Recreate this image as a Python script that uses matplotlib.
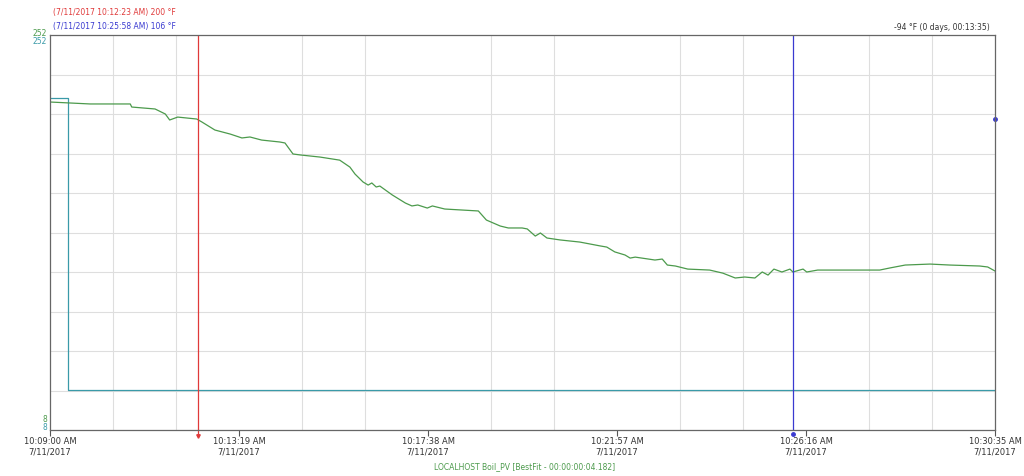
import numpy as np
import matplotlib
matplotlib.use("Agg")
import matplotlib.pyplot as plt

# seconds after 10:09:00 AM and temperature (°F)
pv_t = [0, 55, 110, 112, 144, 158, 164, 175, 201, 208, 226, 247, 263, 274, 290,
        315, 322, 333, 343, 370, 397, 411, 418, 429, 436, 441, 447, 452, 469,
        487, 496, 504, 517, 524, 541, 587, 598, 617, 628, 647, 654, 665, 672,
        681, 699, 726, 754, 763, 774, 788, 795, 802, 829, 839, 846, 857, 874,
        904, 922, 939, 952, 966, 976, 984, 992, 1003, 1014, 1018, 1032, 1037,
        1052, 1089, 1121, 1137, 1151, 1172, 1206, 1233, 1274, 1285, 1295]
pv_v = [210.6, 209.4, 209.4, 207.5, 206.3, 203.2, 199.5, 201.3, 200.1, 198.3,
        193.3, 190.8, 188.4, 189.0, 187.1, 185.9, 185.3, 178.5, 177.9, 176.6,
        174.7, 170.4, 166.1, 161.2, 159.3, 160.6, 158.1, 158.7, 153.2, 148.2,
        146.4, 147.0, 145.1, 146.4, 144.5, 143.3, 137.7, 134.0, 132.8, 132.8,
        132.2, 127.8, 129.7, 126.6, 125.4, 124.1, 121.7, 121.0, 118.0, 116.1,
        114.2, 114.8, 113.0, 113.6, 109.9, 109.3, 107.4, 106.8, 104.9, 101.9,
        102.5, 101.9, 105.6, 103.7, 107.4, 105.6, 107.4, 105.6, 107.4, 105.6,
        106.8, 106.8, 106.8, 106.8, 108.1, 109.9, 110.5, 109.9, 109.3, 108.7,
        106.2]

sp_t = [0, 25, 25, 1295]
sp_v = [213, 213, 33, 33]

tick_t = [0, 259, 518, 777, 1036, 1295]
tick_labels = ["10:09:00 AM\n7/11/2017", "10:13:19 AM\n7/11/2017",
               "10:17:38 AM\n7/11/2017", "10:21:57 AM\n7/11/2017",
               "10:26:16 AM\n7/11/2017", "10:30:35 AM\n7/11/2017"]

cursor1_t, cursor1_v = 203, 200
cursor2_t, cursor2_v = 1018, 106
y_min, y_max = 8, 252

green = "#4c9a4c"
teal = "#3a9aa8"
red = "#e03a3a"
blue = "#3a3ad0"

fig = plt.figure(figsize=(10.24, 4.76), dpi=100)
ax = fig.add_axes([50 / 1024, 1 - 430 / 476, 945 / 1024, 395 / 476])

ax.set_xlim(0, 1295)
ax.set_ylim(y_min, y_max)

ax.set_xticks(np.linspace(0, 1295, 16), minor=True)
ax.set_yticks(np.linspace(y_min, y_max, 11))
ax.grid(True, which="minor", axis="x", color="#dedede", lw=0.8)
ax.grid(True, which="major", axis="y", color="#dedede", lw=0.8)
ax.set_xticks(tick_t)
ax.set_xticklabels(tick_labels, fontsize=6, color="#333333")
ax.tick_params(axis="x", which="major", length=4, width=0.8, color="#555555", pad=1)
ax.tick_params(axis="x", which="minor", length=0)
ax.tick_params(axis="y", length=0, labelleft=False)
for s in ax.spines.values():
    s.set_color("#666666")
    s.set_linewidth(0.9)

ax.plot(sp_t, sp_v, color=teal, lw=0.9)
ax.plot(pv_t, pv_v, color=green, lw=0.9)

ax.axvline(cursor1_t, color=red, lw=0.9)
ax.axvline(cursor2_t, color=blue, lw=0.9)
ax.plot([cursor1_t, cursor1_t], [y_min, y_min - 4], color=red, lw=0.9, clip_on=False)
ax.plot([cursor1_t], [y_min - 4], marker="v", ms=2.5, color=red, clip_on=False)
ax.plot([cursor2_t], [y_min - 2.5], marker="o", ms=2.5, color=blue, clip_on=False)
ax.plot([1295], [cursor1_v], marker="o", ms=2.5, color=blue, clip_on=False)

fig.text(53 / 1024, 1 - 12 / 476, "(7/11/2017 10:12:23 AM) 200 °F",
         color=red, fontsize=5.5, va="center")
fig.text(53 / 1024, 1 - 26 / 476, "(7/11/2017 10:25:58 AM) 106 °F",
         color=blue, fontsize=5.5, va="center")
fig.text(990 / 1024, 1 - 27 / 476, "-94 °F (0 days, 00:13:35)",
         color="#333333", fontsize=5.5, va="center", ha="right")

fig.text(47 / 1024, 1 - 34 / 476, "252", color=green, fontsize=5.5,
         ha="right", va="center")
fig.text(47 / 1024, 1 - 42 / 476, "252", color=teal, fontsize=5.5,
         ha="right", va="center")
fig.text(47 / 1024, 1 - 419 / 476, "8", color=green, fontsize=5.5,
         ha="right", va="center")
fig.text(47 / 1024, 1 - 427 / 476, "8", color=teal, fontsize=5.5,
         ha="right", va="center")

fig.text(525 / 1024, 1 - 467 / 476, "LOCALHOST Boil_PV [BestFit - 00:00:00:04.182]",
         color=green, fontsize=5.5, ha="center", va="center")

fig.savefig("out.png", dpi=100, facecolor="white")
